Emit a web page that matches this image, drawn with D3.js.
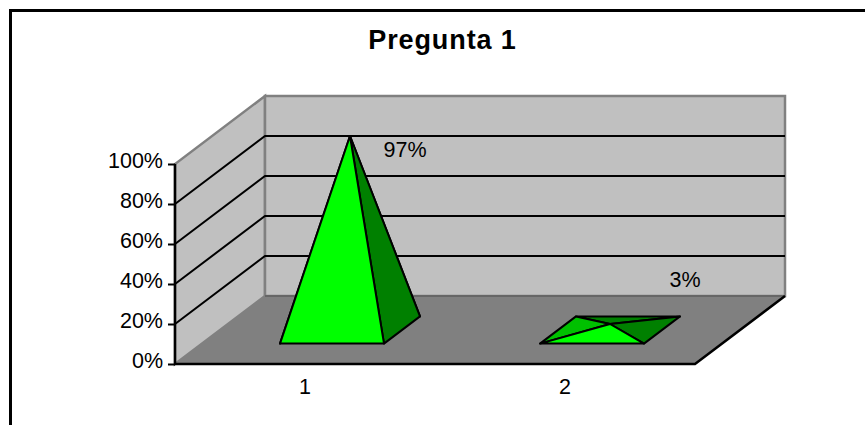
<!DOCTYPE html>
<html>
<head>
<meta charset="utf-8">
<script src="https://cdn.jsdelivr.net/npm/d3@7"></script>
<style>
  html, body { margin: 0; padding: 0; background: #fff; }
  svg { display: block; }
  text { font-family: "Liberation Sans", Arial, sans-serif; fill: #000; }
  .axis text { font-size: 21.5px; }
  .axis .tick line { stroke: #000; stroke-width: 2; }
  .axis .domain { display: none; }
  .value-label { font-size: 21.5px; }
  .title { font-size: 27px; font-weight: bold; letter-spacing: 0.9px; }
</style>
</head>
<body>
<div id="chart"></div>
<script>
const WIDTH = 865;
const HEIGHT = 425;

const title = 'Pregunta 1';
const categories = ['1', '2'];
const values = [0.97, 0.03];
const valueLabels = ['97%', '3%'];
const yTicks = [0, 0.2, 0.4, 0.6, 0.8, 1];

const LEFT = 175, RIGHT = 695, BOTTOM = 364, TOP = 164;
const DEPTH_X = 90, DEPTH_Y = -68;

const xScale = d3.scaleBand()
  .domain(categories)
  .range([LEFT, RIGHT])
  .paddingInner(0.6)
  .paddingOuter(0.3);

const yScale = d3.scaleLinear().domain([0, 1]).range([BOTTOM, TOP]);
const depthX = d3.scaleLinear().domain([0, 1]).range([0, DEPTH_X]);
const depthY = d3.scaleLinear().domain([0, 1]).range([0, DEPTH_Y]);

// plane position + value + depth (0 front, 1 back) to screen
const project = (px, v, d) => [px + depthX(d), yScale(v) + depthY(d)];

const line = d3.line();
const poly = pts => line(pts) + 'Z';

const svg = d3.select('#chart')
  .append('svg')
  .attr('width', WIDTH)
  .attr('height', HEIGHT);

// chart frame, only top and left are inside the picture
svg.append('path')
  .attr('d', line([[10.5, HEIGHT + 5], [10.5, 10.5], [WIDTH + 5, 10.5]]))
  .attr('fill', 'none')
  .attr('stroke', '#000')
  .attr('stroke-width', 3);

svg.append('text')
  .attr('class', 'title')
  .attr('x', 442.5)
  .attr('y', 49)
  .attr('text-anchor', 'middle')
  .text(title);

// walls and floor
svg.append('path')
  .attr('d', poly([project(LEFT, 0, 0), project(LEFT, 1, 0), project(LEFT, 1, 1), project(LEFT, 0, 1)]))
  .attr('fill', '#c0c0c0')
  .attr('stroke', '#808080')
  .attr('stroke-width', 2.5);

svg.append('path')
  .attr('d', poly([project(LEFT, 0, 1), project(LEFT, 1, 1), project(RIGHT, 1, 1), project(RIGHT, 0, 1)]))
  .attr('fill', '#c0c0c0')
  .attr('stroke', '#808080')
  .attr('stroke-width', 2.5);

svg.append('path')
  .attr('d', poly([project(LEFT, 0, 0), project(LEFT, 0, 1), project(RIGHT, 0, 1), project(RIGHT, 0, 0)]))
  .attr('fill', '#808080');

// gridlines run along the side wall and across the back wall
svg.append('g')
  .selectAll('path')
  .data(yTicks.filter(t => t > 0 && t < 1))
  .enter()
  .append('path')
  .attr('d', t => line([project(LEFT, t, 0), project(LEFT, t, 1), project(RIGHT, t, 1)]))
  .attr('fill', 'none')
  .attr('stroke', '#000')
  .attr('stroke-width', 2);

svg.append('path')
  .attr('d', line([project(LEFT, 0, 1), project(RIGHT, 0, 1)]))
  .attr('stroke', '#666')
  .attr('stroke-width', 2);

// front edges of the floor and the value axis
svg.append('path')
  .attr('d', line([project(LEFT, 1, 0), project(LEFT, 0, 0), project(RIGHT, 0, 0), project(RIGHT, 0, 1)]))
  .attr('fill', 'none')
  .attr('stroke', '#000')
  .attr('stroke-width', 2.5);

const yAxis = d3.axisLeft(yScale)
  .tickValues(yTicks)
  .tickFormat(d3.format('.0%'))
  .tickSize(7)
  .tickPadding(5);

svg.append('g')
  .attr('class', 'axis')
  .attr('transform', `translate(${LEFT}, 0)`)
  .call(yAxis)
  .selectAll('text')
  .attr('dy', '0.18em');

const xAxis = d3.axisBottom(xScale)
  .tickSize(0)
  .tickPadding(15);

svg.append('g')
  .attr('class', 'axis')
  .attr('transform', `translate(0, ${BOTTOM})`)
  .call(xAxis);

// pyramids, drawn back to front so the hidden faces get covered
const FRONT = 0.3, BACK = 0.7, MID = 0.5;

const pyramids = svg.selectAll('.pyramid')
  .data(categories.map((c, i) => ({ category: c, value: values[i] })))
  .enter()
  .append('g')
  .attr('class', 'pyramid');

const faces = [
  { fill: '#008000', corners: d => [[d.x0, BACK], [d.x1, BACK]] },
  { fill: '#00c000', corners: d => [[d.x0, FRONT], [d.x0, BACK]] },
  { fill: '#008000', corners: d => [[d.x1, FRONT], [d.x1, BACK]] },
  { fill: '#00ff00', corners: d => [[d.x0, FRONT], [d.x1, FRONT]] }
];

pyramids.each(function (d) {
  const x0 = xScale(d.category);
  const x1 = x0 + xScale.bandwidth();
  const apex = project((x0 + x1) / 2, d.value, MID);
  const group = d3.select(this);
  faces.forEach(face => {
    const base = face.corners({ x0, x1 }).map(c => project(c[0], 0, c[1]));
    group.append('path')
      .attr('d', poly([base[0], base[1], apex]))
      .attr('fill', face.fill)
      .attr('stroke', '#000')
      .attr('stroke-width', 2)
      .attr('stroke-linejoin', 'round');
  });
});

// value labels sit above and right of each pyramid
const labelOffsets = [[55, 21], [75, -37]];

svg.selectAll('.value-label')
  .data(valueLabels)
  .enter()
  .append('text')
  .attr('class', 'value-label')
  .attr('text-anchor', 'middle')
  .attr('x', (d, i) => project(xScale(categories[i]) + xScale.bandwidth() / 2, values[i], MID)[0] + labelOffsets[i][0])
  .attr('y', (d, i) => project(xScale(categories[i]) + xScale.bandwidth() / 2, values[i], MID)[1] + labelOffsets[i][1])
  .text(d => d);
</script>
</body>
</html>
